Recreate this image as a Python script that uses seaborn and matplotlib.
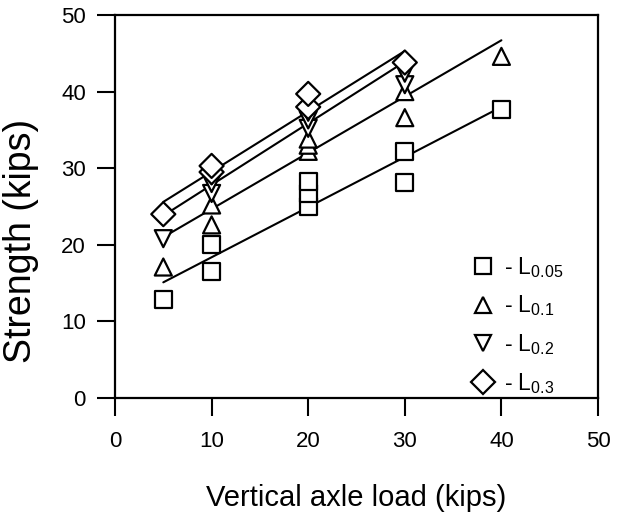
import matplotlib
matplotlib.use("Agg")
import matplotlib.pyplot as plt
from matplotlib.lines import Line2D
import seaborn as sns
import pandas as pd

# ---- data ----
series_names = ["L0.05", "L0.1", "L0.2", "L0.3"]
legend_labels = ["- L$_{0.05}$", "- L$_{0.1}$", "- L$_{0.2}$", "- L$_{0.3}$"]

sq_x = [5, 10, 10, 20, 20, 20, 30, 30, 40]
sq_y = [12.8, 16.5, 20.0, 25.0, 26.7, 28.3, 28.1, 32.2, 37.6]

up_x = [5, 10, 10, 20, 20, 20, 30, 30, 40]
up_y = [17.1, 22.6, 25.2, 32.2, 33.0, 33.8, 36.6, 40.0, 44.6]

dn_x = [5, 10, 10, 10, 20, 20, 20, 30, 30]
dn_y = [20.8, 26.7, 28.0, 29.0, 35.2, 36.3, 37.3, 40.9, 42.4]

di_x = [5, 10, 10, 20, 20, 30]
di_y = [24.0, 29.5, 30.3, 38.0, 39.7, 43.8]

# fitted trend lines (start/end)
fit_x0 = [5, 5, 5, 5]
fit_x1 = [40, 40, 30, 30]
fit_y0 = [15.1, 21.0, 23.8, 25.6]
fit_y1 = [38.0, 46.7, 43.9, 45.3]

x_ticks = [0, 10, 20, 30, 40, 50]
y_ticks = [0, 10, 20, 30, 40, 50]

# ---- build tables ----
pts = pd.concat([
    pd.DataFrame({"load": sq_x, "strength": sq_y, "series": series_names[0]}),
    pd.DataFrame({"load": up_x, "strength": up_y, "series": series_names[1]}),
    pd.DataFrame({"load": dn_x, "strength": dn_y, "series": series_names[2]}),
    pd.DataFrame({"load": di_x, "strength": di_y, "series": series_names[3]}),
], ignore_index=True)

lines = pd.DataFrame({
    "load": fit_x0 + fit_x1,
    "strength": fit_y0 + fit_y1,
    "series": series_names + series_names,
})

sns.set_style("ticks")
plt.rcParams["font.family"] = ["Liberation Sans", "DejaVu Sans"]
plt.rcParams["mathtext.default"] = "regular"
plt.rcParams["text.color"] = "black"
plt.rcParams["axes.labelcolor"] = "black"
plt.rcParams["xtick.color"] = "black"
plt.rcParams["ytick.color"] = "black"

fig = plt.figure(figsize=(6.19, 5.13), dpi=100)
ax = fig.add_axes([115 / 619, 1 - 398 / 513, (598 - 115) / 619, (398 - 15) / 513])

sns.lineplot(data=lines, x="load", y="strength", units="series", estimator=None,
             color="black", linewidth=1.5, ax=ax, zorder=2, legend=False)

markers = {"L0.05": "s", "L0.1": "^", "L0.2": "v", "L0.3": "D"}
sns.scatterplot(data=pts, x="load", y="strength", style="series", markers=markers,
                color="white", edgecolor="black", linewidth=1.6, s=150,
                ax=ax, zorder=3, legend=False)

ax.set_xlim(0, 50)
ax.set_ylim(0, 50)
ax.set_xticks(x_ticks)
ax.set_yticks(y_ticks)
ax.tick_params(axis="both", which="major", direction="out", length=13, width=1.5,
               labelsize=16, colors="black", labelcolor="black",
               bottom=True, left=True, top=False, right=False)
ax.tick_params(axis="y", pad=8)
ax.tick_params(axis="x", pad=11)
for sp in ax.spines.values():
    sp.set_visible(True)
    sp.set_linewidth(1.6)
    sp.set_color("black")

ax.set_xlabel("Vertical axle load (kips)", fontsize=21, color="black")
ax.set_ylabel("Strength (kips)", fontsize=27, color="black")
ax.xaxis.set_label_coords(0.5, -0.225)
ax.yaxis.set_label_coords(-0.158, 0.41)

handles = [Line2D([], [], linestyle="none", marker=markers[n], markersize=12.2,
                  markerfacecolor="white", markeredgecolor="black",
                  markeredgewidth=1.6) for n in series_names]
leg = ax.legend(handles, legend_labels, loc="lower left", bbox_to_anchor=(0.70, -0.036),
                frameon=False, fontsize=16.5, handletextpad=0.3, labelspacing=0.6,
                borderpad=0.2, handlelength=1.2)
for t in leg.get_texts():
    t.set_color("black")

fig.savefig("out.png", dpi=100)
